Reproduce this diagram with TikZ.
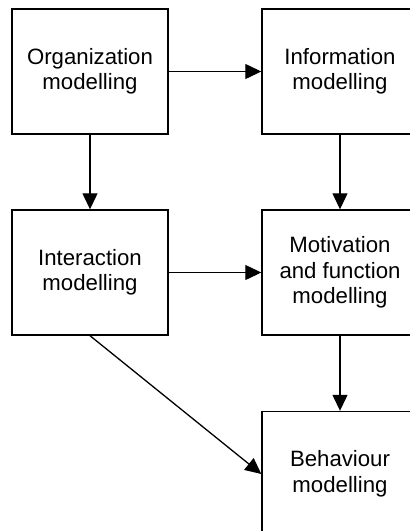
\documentclass[tikz,border=0pt]{standalone}
\usepackage{fontspec}
\setmainfont{Liberation Sans}
\usetikzlibrary{arrows.meta}
\begin{document}
\begin{tikzpicture}[x=1pt,y=-1pt,
  stagebox/.style={draw=black, line width=1.4pt, fill=white, minimum width=156pt,
    minimum height=125pt, inner sep=0pt, align=center,
    font=\fontsize{22.2}{25.5}\selectfont},
  flow/.style={line width=1.3pt, -{Triangle[length=16pt,width=15pt]}}]
  \useasboundingbox (0,0) rectangle (410,531);
  \clip (0,0) rectangle (410,531);
  \fill[white] (0,0) rectangle (410,531);
  % modelling stages
  \node[stagebox] (org)  at (90,71.5)  {Organization\\modelling};
  \node[stagebox] (info) at (340,71.5) {Information\\modelling};
  \node[stagebox] (inter) at (90,272.5) {Interaction\\modelling};
  \node[stagebox] (motiv) at (340,272.5) {Motivation\\and function\\modelling};
  \node[stagebox] (behav) at (340,474) {Behaviour\\modelling};
  % dependencies
  \draw[flow] (org) -- (info);
  \draw[flow] (org) -- (inter);
  \draw[flow] (info) -- (motiv);
  \draw[flow] (inter) -- (motiv);
  \draw[flow] (motiv) -- (behav);
  \draw[flow] (inter.south) -- (behav.west);
\end{tikzpicture}
\end{document}
